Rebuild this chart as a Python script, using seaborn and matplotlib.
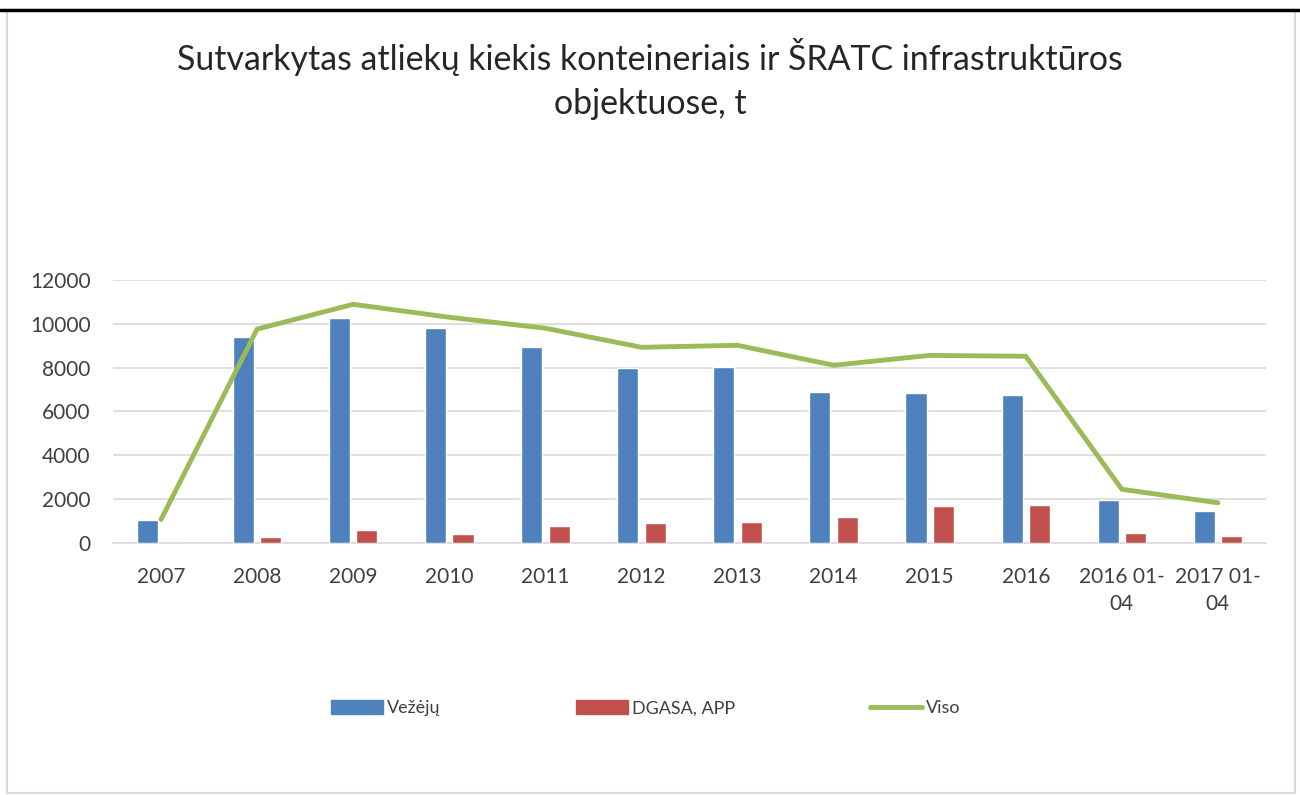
import matplotlib
matplotlib.use('Agg')
import matplotlib.pyplot as plt
import seaborn as sns
import pandas as pd
from matplotlib.patches import Patch, Rectangle
from matplotlib.lines import Line2D

# --- data ---
categories = ["2007", "2008", "2009", "2010", "2011", "2012", "2013",
              "2014", "2015", "2016", "2016 01-\n04", "2017 01-\n04"]
vezeju = [1070, 9400, 10250, 9820, 8960, 7970, 8045, 6900, 6850, 6760, 1970, 1470]
dgasa = [0, 290, 580, 410, 770, 900, 950, 1165, 1670, 1715, 445, 305]
viso = [1070, 9760, 10890, 10300, 9800, 8930, 9020, 8110, 8560, 8520, 2450, 1835]

series_names = ["Vežėjų", "DGASA, APP", "Viso"]
title = "Sutvarkytas atliekų kiekis konteineriais ir ŠRATC infrastruktūros\nobjektuose, t"

BLUE, RED, GREEN = "#4F81BD", "#C0504D", "#9BBB59"
GRID = "#D9D9D9"
TEXT = "#404040"

sns.set_theme(style="white")
plt.rcParams['font.family'] = ['Lato', 'DejaVu Sans']

df = pd.DataFrame({
    "cat": categories * 2,
    "value": vezeju + dgasa,
    "series": [series_names[0]] * len(categories) + [series_names[1]] * len(categories),
})

fig = plt.figure(figsize=(13, 7.95), dpi=100)
ax = fig.add_axes([113 / 1300, 1 - 543 / 795, (1266 - 113) / 1300, (543 - 280) / 795])

sns.barplot(data=df, x="cat", y="value", hue="series", order=categories,
            palette=[BLUE, RED], width=0.57, gap=0.23, saturation=1,
            legend=False, ax=ax, zorder=3)
sns.pointplot(x=categories, y=viso, order=categories, color=GREEN,
              marker="", linewidth=3.5, ax=ax, zorder=4)
for ln in ax.lines:
    ln.set_solid_capstyle("round")
    ln.set_solid_joinstyle("round")

ax.set_ylim(0, 12000)
ax.set_xlim(-0.5, len(categories) - 0.5)
ax.set_yticks(range(0, 12001, 2000))
ax.yaxis.grid(True, color=GRID, linewidth=1.2, zorder=0)
ax.set_axisbelow(True)
for s in ["top", "right", "left"]:
    ax.spines[s].set_visible(False)
ax.spines["bottom"].set_color(GRID)
ax.spines["bottom"].set_linewidth(1.2)
ax.tick_params(axis="both", length=0, labelsize=15, colors=TEXT)
ax.tick_params(axis="x", pad=17)
ax.tick_params(axis="y", pad=16)
for lbl in ax.get_xticklabels():
    lbl.set_linespacing(1.45)
ax.set_xlabel("")
ax.set_ylabel("")

fig.text(0.5, 1 - 79 / 795, title, ha="center", va="center",
         fontsize=24.4, color="#262626", linespacing=1.5)

handles = [Patch(facecolor=BLUE, edgecolor=BLUE),
           Patch(facecolor=RED, edgecolor=RED),
           Line2D([0], [0], color=GREEN, linewidth=3.5, solid_capstyle="round")]
fig.legend(handles, series_names, loc="center left",
           bbox_to_anchor=(331 / 1300, 1 - 708 / 795), ncol=3, frameon=False,
           fontsize=13, handlelength=2.88, handleheight=0.83, handletextpad=0.22,
           columnspacing=7.5, borderpad=0, borderaxespad=0, labelcolor=TEXT)

# chart frame
fig.add_artist(Rectangle((7 / 1300, 2 / 795), 1288 / 1300, 783 / 795,
                         transform=fig.transFigure, fill=False,
                         edgecolor="#D9D9D9", linewidth=1.5))
fig.add_artist(Line2D([0, 1], [1 - 10 / 795, 1 - 10 / 795],
                      transform=fig.transFigure, color="black", linewidth=2.5))

fig.savefig("out.png", dpi=100)
